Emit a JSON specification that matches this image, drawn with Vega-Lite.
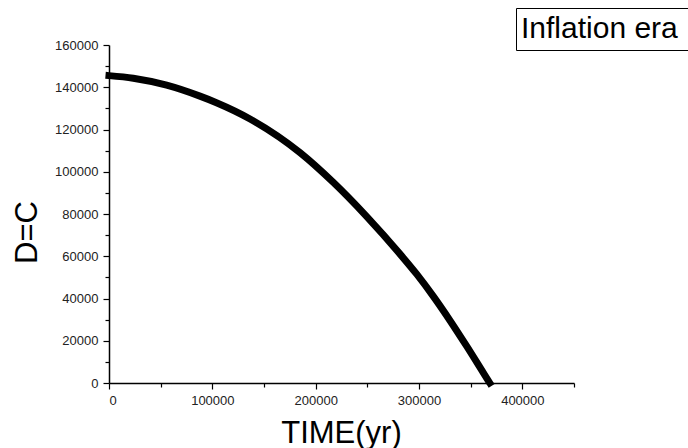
{
  "$schema": "https://vega.github.io/schema/vega-lite/v6.json",
  "width": 465,
  "height": 338,
  "autosize": {"type": "none"},
  "padding": {"left": 109, "top": 45, "right": 114, "bottom": 65},
  "background": "white",
  "config": {
    "view": {"stroke": null},
    "font": "Liberation Sans",
    "axis": {
      "domainColor": "black",
      "domainWidth": 1.5,
      "tickColor": "black",
      "tickWidth": 1.2,
      "labelFont": "Liberation Sans",
      "labelFontSize": 13,
      "labelColor": "#222",
      "labelOverlap": false,
      "grid": false,
      "titleFont": "Liberation Sans",
      "titleFontSize": 31,
      "titleFontWeight": "normal",
      "titleColor": "black"
    }
  },
  "data": {
    "values": [
      {"t": 0, "D": 145500, "series": "Inflation era"},
      {"t": 23500, "D": 144300, "series": "Inflation era"},
      {"t": 55800, "D": 141000, "series": "Inflation era"},
      {"t": 88000, "D": 135800, "series": "Inflation era"},
      {"t": 104000, "D": 132700, "series": "Inflation era"},
      {"t": 136500, "D": 125000, "series": "Inflation era"},
      {"t": 185000, "D": 109000, "series": "Inflation era"},
      {"t": 217000, "D": 95000, "series": "Inflation era"},
      {"t": 249000, "D": 79000, "series": "Inflation era"},
      {"t": 281700, "D": 61000, "series": "Inflation era"},
      {"t": 297800, "D": 51500, "series": "Inflation era"},
      {"t": 313900, "D": 41000, "series": "Inflation era"},
      {"t": 330100, "D": 29500, "series": "Inflation era"},
      {"t": 346300, "D": 17300, "series": "Inflation era"},
      {"t": 362300, "D": 4800, "series": "Inflation era"},
      {"t": 368500, "D": 0, "series": "Inflation era"}
    ]
  },
  "mark": {"type": "line", "strokeWidth": 7, "strokeCap": "square", "interpolate": "monotone"},
  "encoding": {
    "x": {
      "field": "t",
      "type": "quantitative",
      "scale": {"domain": [0, 450000], "nice": false, "zero": true},
      "axis": {
        "title": "TIME(yr)",
        "values": [0, 50000, 100000, 150000, 200000, 250000, 300000, 350000, 400000, 450000],
        "format": "d",
        "labelExpr": "datum.value % 100000 === 0 ? datum.label : ''",
        "tickSize": {"condition": {"test": "datum.value % 100000 === 0", "value": 6}, "value": 4},
        "labelPadding": 5,
        "titleX": 232,
        "titleY": 59,
        "titleBaseline": "alphabetic",
        "titleAlign": "center"
      }
    },
    "y": {
      "field": "D",
      "type": "quantitative",
      "scale": {"domain": [0, 160000], "nice": false},
      "axis": {
        "title": "D=C",
        "values": [0, 10000, 20000, 30000, 40000, 50000, 60000, 70000, 80000, 90000, 100000, 110000, 120000, 130000, 140000, 150000, 160000],
        "format": "d",
        "labelExpr": "datum.value % 20000 === 0 ? datum.label : ''",
        "tickSize": {"condition": {"test": "datum.value % 20000 === 0", "value": 6}, "value": 4},
        "labelPadding": 5,
        "titleAngle": -90,
        "titleX": -73,
        "titleY": 187,
        "titleBaseline": "alphabetic",
        "titleAlign": "center"
      }
    },
    "color": {
      "field": "series",
      "type": "nominal",
      "scale": {"range": ["black"]},
      "legend": {
        "title": null,
        "orient": "none",
        "legendX": 407,
        "legendY": -37,
        "strokeColor": "black",
        "padding": 6,
        "symbolType": "square",
        "symbolSize": 1,
        "symbolOffset": 180,
        "symbolOpacity": 0,
        "symbolStrokeWidth": 0,
        "labelOffset": -211,
        "labelFontSize": 30,
        "labelFont": "Liberation Sans",
        "labelColor": "black",
        "labelLimit": 400
      }
    }
  }
}
